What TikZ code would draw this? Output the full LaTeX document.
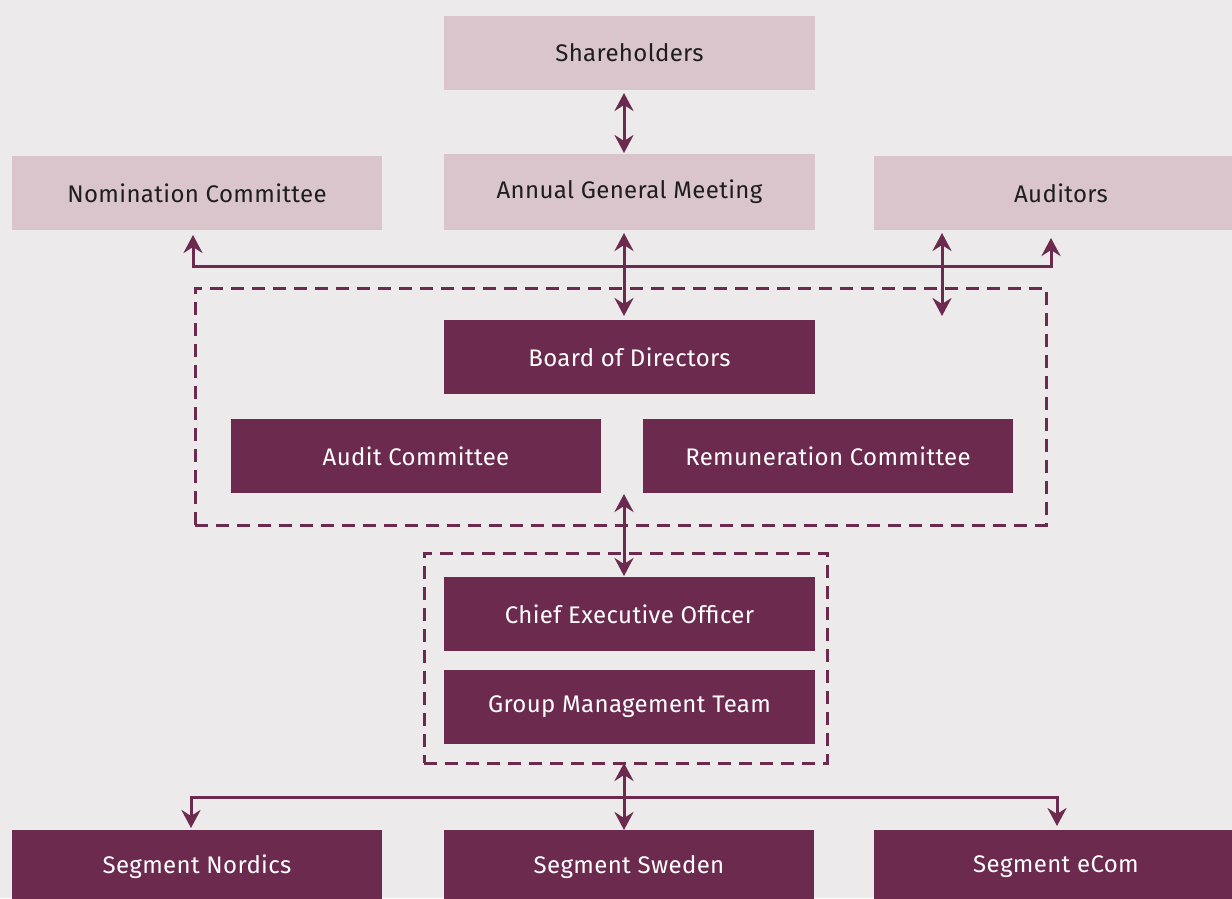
\documentclass[tikz,border=0pt]{standalone}
\usepackage{fontspec}
\setmainfont{Fira Sans}[LetterSpace=1.5]
\usetikzlibrary{arrows.meta}
\definecolor{bg}{HTML}{ECEAEB}
\definecolor{lightbox}{HTML}{D9C5CB}
\definecolor{darkbox}{HTML}{6D2A4F}
\definecolor{txt}{HTML}{1E1E1E}
\tikzset{
  lbox/.style={fill=lightbox, inner sep=0pt, text=txt, font=\fontsize{24}{28}\selectfont},
  dbox/.style={fill=darkbox, inner sep=0pt, text=white, font=\fontsize{24}{28}\selectfont},
  dashbox/.style={draw=darkbox, line width=3pt, dash pattern=on 13pt off 8pt, inner sep=0pt},
  conn/.style={draw=darkbox, line width=3pt},
  tip/.tip={Stealth[length=18pt,width=19pt,inset=6pt]},
}
\begin{document}
\begin{tikzpicture}[x=1pt,y=-1pt]
\path[fill=bg,use as bounding box] (0,0) rectangle (1232,898);
\begin{scope}
\clip (0,0) rectangle (1232,898);
% light boxes
\node[lbox, minimum width=371pt, minimum height=74pt] (sh) at (629.5,53) {Shareholders};
\node[lbox, minimum width=370pt, minimum height=74pt] (nom) at (197,193) {Nomination Committee};
\node[lbox, minimum width=371pt, minimum height=76pt] (agm) at (629.5,192) {Annual General Meeting};
\node[lbox, minimum width=374pt, minimum height=74pt] (aud) at (1061,193) {Auditors};
% dashed groups
\node[dashbox, minimum width=851pt, minimum height=237pt] (grp1) at (620.5,406.5) {};
\node[dashbox, minimum width=403pt, minimum height=210pt] (grp2) at (625.5,658) {};
% dark boxes
\node[dbox, minimum width=371pt, minimum height=74pt] (bod) at (629.5,357) {Board of Directors};
\node[dbox, minimum width=370pt, minimum height=74pt] (ac) at (416,456) {Audit Committee};
\node[dbox, minimum width=370pt, minimum height=74pt] (rc) at (828,456) {Remuneration Committee};
\node[dbox, minimum width=371pt, minimum height=74pt] (ceo) at (629.5,614) {Chief Executive Officer};
\node[dbox, minimum width=371pt, minimum height=74pt] (gmt) at (629.5,707) {Group Management Team};
\node[dbox, minimum width=370pt, minimum height=74pt] (sn) at (197,867) {Segment Nordics};
\node[dbox, minimum width=370pt, minimum height=74pt] (ss) at (629,867) {Segment Sweden};
\node[dbox, minimum width=364pt, minimum height=74pt] (se) at (1056,867) {Segment eCom};
\end{scope}
% connectors
\coordinate (a1) at (624,93);
\coordinate (a2) at (624,153);
\draw[conn, tip-tip] (a1) -- (a2);
\coordinate (b1) at (624,233);
\coordinate (b2) at (624,316);
\draw[conn, tip-tip] (b1) -- (b2);
\coordinate (c1) at (942,233);
\coordinate (c2) at (942,316);
\draw[conn, tip-tip] (c1) -- (c2);
\coordinate (n1) at (193,235);
\coordinate (n2) at (1051,238);
\draw[conn, tip-tip] (n1) -- (193,266) -- (1051,266) -- (n2);
\coordinate (d1) at (624,494);
\coordinate (d2) at (624,576);
\draw[conn, tip-tip] (d1) -- (d2);
\coordinate (e1) at (624,763);
\coordinate (e2) at (624,830);
\draw[conn, tip-tip] (e1) -- (e2);
\coordinate (s1) at (191,828);
\coordinate (s2) at (1057,826);
\draw[conn, tip-tip] (s1) -- (191,797) -- (1057,797) -- (s2);
\end{tikzpicture}
\end{document}
